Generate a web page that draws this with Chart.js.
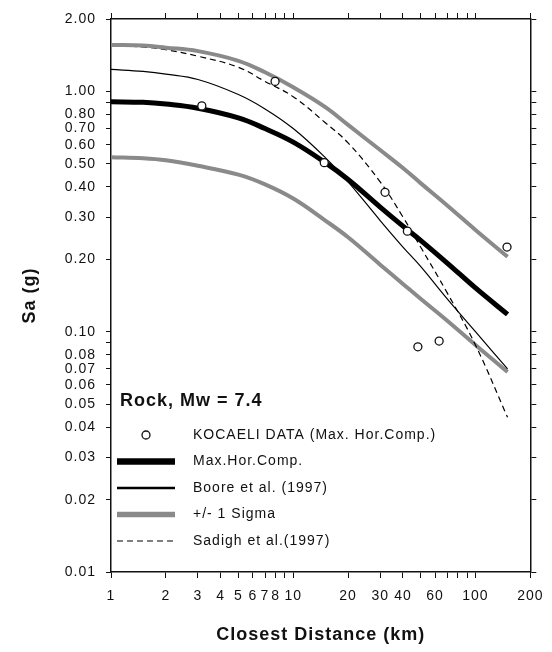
<!DOCTYPE html>
<html>
<head>
<meta charset="utf-8">
<script src="https://cdn.jsdelivr.net/npm/chart.js@4.4.1/dist/chart.umd.min.js"></script>
<style>
  html, body { margin: 0; padding: 0; background: #fff; }
  #wrap { width: 552px; height: 652px; }
</style>
</head>
<body>
<div id="wrap"><canvas id="sa" width="552" height="652"></canvas></div>
<script>
const distances = [1, 1.5, 2, 3, 5, 7, 10, 15, 20, 30, 40, 50, 70, 100, 150];
const maxHorComp = [0.905, 0.90, 0.885, 0.85, 0.775, 0.70, 0.615, 0.505, 0.43, 0.33, 0.275, 0.24, 0.193, 0.152, 0.118];
const boore = [1.235, 1.21, 1.18, 1.12, 0.97, 0.845, 0.70, 0.53, 0.42, 0.29, 0.225, 0.187, 0.137, 0.10, 0.07];
const sadigh = [1.55, 1.53, 1.49, 1.40, 1.26, 1.10, 0.95, 0.74, 0.61, 0.42, 0.30, 0.225, 0.145, 0.088, 0.044];
const sigmaUpper = [1.56, 1.55, 1.52, 1.47, 1.34, 1.20, 1.04, 0.86, 0.725, 0.57, 0.48, 0.415, 0.335, 0.265, 0.205];
const sigmaLower = [0.532, 0.527, 0.517, 0.49, 0.45, 0.41, 0.358, 0.29, 0.247, 0.19, 0.158, 0.137, 0.111, 0.088, 0.068];

// recorded data
const kocaeliDist = [3.15, 7.95, 14.8, 31.9, 42.3, 48.3, 63.2, 149];
const kocaeliSa = [0.87, 1.10, 0.505, 0.38, 0.262, 0.0865, 0.0914, 0.225];

// ticks
const xTicks = [1, 2, 3, 4, 5, 6, 7, 8, 9, 10, 20, 30, 40, 50, 60, 70, 80, 90, 100, 200];
const xTickLabels = [1, 2, 3, 4, 5, 6, 7, 8, 10, 20, 30, 40, 60, 100, 200];
const yTicks = [0.01, 0.02, 0.03, 0.04, 0.05, 0.06, 0.07, 0.08, 0.09, 0.1, 0.2, 0.3, 0.4, 0.5, 0.6, 0.7, 0.8, 0.9, 1, 2];
const yTickLabels = [0.01, 0.02, 0.03, 0.04, 0.05, 0.06, 0.07, 0.08, 0.1, 0.2, 0.3, 0.4, 0.5, 0.6, 0.7, 0.8, 1, 2];

const legendTitle = 'Rock, Mw = 7.4';
const seriesNames = ['KOCAELI DATA (Max. Hor.Comp.)', 'Max.Hor.Comp.', 'Boore et al. (1997)', '+/- 1 Sigma', 'Sadigh et al.(1997)'];

const FONT = '"Liberation Sans", Arial, sans-serif';
const INK = '#111';
const GREY = '#8a8a8a';

const pts = (xs, ys) => xs.map((x, i) => ({ x: x, y: ys[i] }));

const insideLegend = {
    id: 'insideLegend',
    beforeDraw(chart) {
        chart.ctx.letterSpacing = '1px';
    },
    afterDatasetsDraw(chart) {
        const { ctx, chartArea: a } = chart;
        ctx.save();
        ctx.letterSpacing = '1px';
        ctx.fillStyle = INK;
        ctx.textBaseline = 'middle';
        ctx.font = 'bold 18px ' + FONT;
        ctx.fillText(legendTitle, a.left + 9, a.bottom - 171);
        ctx.font = '14px ' + FONT;
        const x0 = a.left + 6, x1 = a.left + 64;
        // legend order: data, max, boore, sigma, sadigh
        [0, 1, 2, 3, 4].forEach((k, i) => {
            const ds = chart.data.datasets[k];
            const y = a.bottom - 137 + i * 26.5;
            ctx.save();
            if (ds.showLine === false) {
                ctx.beginPath();
                ctx.arc((x0 + x1) / 2, y, 4, 0, Math.PI * 2);
                ctx.fillStyle = '#fff';
                ctx.fill();
                ctx.lineWidth = 1.3;
                ctx.strokeStyle = INK;
                ctx.stroke();
            } else {
                ctx.beginPath();
                ctx.setLineDash(ds.borderDash || []);
                ctx.lineWidth = ds.legendWidth;
                ctx.strokeStyle = ds.borderColor;
                ctx.moveTo(x0, y);
                ctx.lineTo(x1, y);
                ctx.stroke();
            }
            ctx.restore();
            ctx.fillText(seriesNames[i], a.left + 82, y);
        });
        ctx.restore();
    }
};

const logTicks = list => scale => { scale.ticks = list.map(v => ({ value: v })); };

function sideAxis(axis, position, list, min, max, size) {
    return {
        axis: axis,
        type: 'logarithmic',
        position: position,
        min: min,
        max: max,
        afterBuildTicks: logTicks(list),
        afterFit: s => { if (axis === 'x') s.height = size; else s.width = size; },
        border: { color: INK, width: 1.5 },
        grid: { drawOnChartArea: false, tickLength: 6, color: INK, lineWidth: 1 },
        ticks: { display: false }
    };
}

new Chart(document.getElementById('sa'), {
    type: 'line',
    data: {
        datasets: [
            {
                label: seriesNames[0],
                data: pts(kocaeliDist, kocaeliSa),
                showLine: false,
                pointRadius: 4,
                pointBorderWidth: 1.3,
                pointBorderColor: INK,
                pointBackgroundColor: '#fff'
            },
            {
                label: seriesNames[1],
                data: pts(distances, maxHorComp),
                borderColor: '#000',
                borderWidth: 5,
                legendWidth: 6.5,
                pointRadius: 0,
                tension: 0.4
            },
            {
                label: seriesNames[2],
                data: pts(distances, boore),
                borderColor: '#000',
                borderWidth: 1.2,
                legendWidth: 2.5,
                pointRadius: 0,
                tension: 0.4
            },
            {
                label: seriesNames[3],
                data: pts(distances, sigmaUpper),
                borderColor: GREY,
                borderWidth: 4,
                legendWidth: 5.5,
                pointRadius: 0,
                tension: 0.4
            },
            {
                label: seriesNames[4],
                data: pts(distances, sadigh),
                borderColor: '#000',
                borderWidth: 1.2,
                borderDash: [6, 4],
                legendWidth: 1.2,
                pointRadius: 0,
                tension: 0.4
            },
            {
                label: seriesNames[3],
                data: pts(distances, sigmaLower),
                borderColor: GREY,
                borderWidth: 4,
                pointRadius: 0,
                tension: 0.4
            }
        ]
    },
    options: {
        responsive: false,
        animation: false,
        layout: { padding: 0 },
        plugins: {
            legend: { display: false },
            tooltip: { enabled: false }
        },
        scales: {
            x: {
                type: 'logarithmic',
                position: 'bottom',
                min: 1,
                max: 200,
                afterBuildTicks: logTicks(xTicks),
                afterFit: s => { s.height = 80; },
                border: { color: INK, width: 1.5 },
                grid: { drawOnChartArea: false, tickLength: 6, color: INK, lineWidth: 1 },
                ticks: {
                    autoSkip: false,
                    maxRotation: 0,
                    padding: 10,
                    color: INK,
                    font: { family: FONT, size: 14 },
                    callback: v => xTickLabels.includes(v) ? String(v) : ''
                },
                title: {
                    display: true,
                    text: 'Closest Distance (km)',
                    color: INK,
                    font: { family: FONT, size: 18, weight: 'bold' },
                    padding: { top: 0, bottom: 6 }
                }
            },
            xTop: sideAxis('x', 'top', xTicks, 1, 200, 19),
            y: {
                type: 'logarithmic',
                position: 'left',
                min: 0.01,
                max: 2,
                afterBuildTicks: logTicks(yTicks),
                afterFit: s => { s.width = 111; },
                border: { color: INK, width: 1.5 },
                grid: { drawOnChartArea: false, tickLength: 5, color: INK, lineWidth: 1 },
                ticks: {
                    autoSkip: false,
                    padding: 10,
                    color: INK,
                    font: { family: FONT, size: 14 },
                    callback: v => yTickLabels.includes(v) ? v.toFixed(2) : ''
                },
                title: {
                    display: true,
                    text: 'Sa (g)',
                    color: INK,
                    font: { family: FONT, size: 18, weight: 'bold' },
                    padding: { top: 19, bottom: 0 }
                }
            },
            yRight: sideAxis('y', 'right', yTicks, 0.01, 2, 15)
        }
    },
    plugins: [insideLegend]
});
</script>
</body>
</html>
